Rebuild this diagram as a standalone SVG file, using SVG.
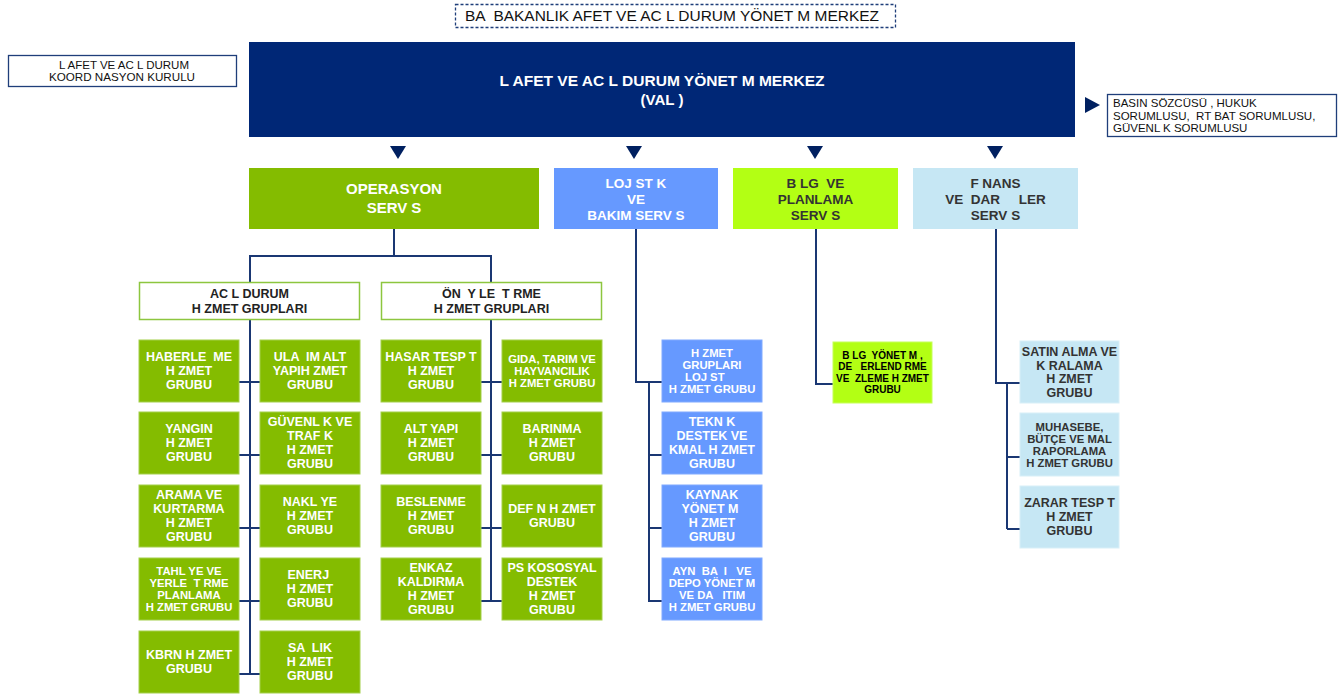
<svg xmlns="http://www.w3.org/2000/svg" width="1340" height="695" viewBox="0 0 1340 695" xml:space="preserve">
<style>
text{font-family:"Liberation Sans",Arial,sans-serif;text-anchor:middle;white-space:pre;}
.w{fill:#ffffff;font-weight:bold;font-size:12.5px;}
.ws{fill:#ffffff;font-weight:bold;font-size:11.3px;}
.d{fill:#333333;font-weight:bold;font-size:12.5px;}
.ds{fill:#333333;font-weight:bold;font-size:11.3px;}
.hd{font-weight:bold;font-size:13.5px;}
.nav{fill:#002776;}
.g{fill:#84BC00;stroke:#A3CF4A;stroke-width:1;}
.bl{fill:#6699FF;stroke:#80AAFF;stroke-width:1;}
.lime{fill:#B3FF14;stroke:#C6FF5A;stroke-width:1;}
.lb{fill:#C6E7F4;stroke:#D8EFF8;stroke-width:1;}
.hdr{fill:#ffffff;stroke:#8DC63F;stroke-width:1.5;}
.conn path{stroke:#1A3773;stroke-width:2;fill:none;}
.tri{fill:#002060;}
</style>

<g id="top-title">
<rect x="455.5" y="4.5" width="440" height="23" fill="#ffffff" stroke="#1F3E7A" stroke-width="1.3" stroke-dasharray="3,2"/>
<text x="672" y="21" style="font-size:14px;fill:#111" textLength="414" lengthAdjust="spacingAndGlyphs">BA  BAKANLIK AFET VE AC L DURUM YÖNET M MERKEZ</text>
</g>

<g id="koordinasyon">
<rect x="8.5" y="55.5" width="228" height="31" fill="#ffffff" stroke="#1F3E7A" stroke-width="1.3"/>
<text x="124" y="69" style="font-size:11.5px;fill:#111" textLength="130" lengthAdjust="spacingAndGlyphs">L AFET VE AC L DURUM</text>
<text x="122" y="80.5" style="font-size:11.5px;fill:#111" textLength="146" lengthAdjust="spacingAndGlyphs">KOORD NASYON KURULU</text>
</g>

<g id="merkez">
<rect class="nav" x="249" y="42" width="826" height="95"/>
<text x="662" y="85.5" style="font-size:15.5px;font-weight:bold;fill:#fff" textLength="325" lengthAdjust="spacingAndGlyphs">L AFET VE AC L DURUM YÖNET M MERKEZ</text>
<text x="662" y="104.5" style="font-size:15.5px;font-weight:bold;fill:#fff" textLength="43" lengthAdjust="spacingAndGlyphs">(VAL )</text>
</g>

<g id="sozcu">
<rect x="1107.5" y="94.5" width="229" height="42" fill="#ffffff" stroke="#1F3E7A" stroke-width="1.3"/>
<text x="1113" y="107" style="text-anchor:start;font-size:11.5px;fill:#111">BASIN SÖZCÜSÜ , HUKUK</text>
<text x="1113" y="119.5" style="text-anchor:start;font-size:11.5px;fill:#111">SORUMLUSU,  RT BAT SORUMLUSU,</text>
<text x="1113" y="132" style="text-anchor:start;font-size:11.5px;fill:#111">GÜVENL K SORUMLUSU</text>
</g>

<g id="arrows">
<polygon class="tri" points="1085,97 1100,105 1085,113"/>
<polygon class="tri" points="390,146 406,146 398,159"/>
<polygon class="tri" points="626,146 642,146 634,159"/>
<polygon class="tri" points="807,146 823,146 815,159"/>
<polygon class="tri" points="987,146 1003,146 995,159"/>
</g>

<g class="conn" id="connectors">
<path d="M394 229 V256 M250 282 V256 H491 V282"/>
<path d="M250 320 V675 M239 382 H260 M239 455 H260 M239 528 H260 M239 601 H260 M239 674 H260"/>
<path d="M491 320 V602 M481 382 H502 M481 455 H502 M481 528 H502 M481 601 H502"/>
<path d="M636 229 V382 H662 M649 382 V602 M649 455 H662 M649 528 H662 M649 601 H662"/>
<path d="M816 229 V384 H833"/>
<path d="M996 229 V383 H1020 M1007 383 V529 M1007 457 H1020 M1007 529 H1020"/>
</g>

<g id="operasyon">
<rect x="249" y="168" width="290" height="61" fill="#84BC00"/>
<text class="w" x="394" y="189" dy="0.35em" style="font-size:15px">OPERASYON</text>
<text class="w" x="394" y="208" dy="0.35em" style="font-size:15px">SERV S</text>
</g>
<g id="lojistik">
<rect x="554" y="168" width="164" height="61" fill="#6699FF"/>
<text class="w hd" x="636" y="183" dy="0.35em">LOJ ST K</text>
<text class="w hd" x="636" y="199" dy="0.35em">VE</text>
<text class="w hd" x="636" y="215" dy="0.35em">BAKIM SERV S</text>
</g>
<g id="bilgi">
<rect x="733" y="168" width="165" height="61" fill="#B3FF14"/>
<text class="d hd" x="815.5" y="183" dy="0.35em">B LG  VE</text>
<text class="d hd" x="815.5" y="199" dy="0.35em">PLANLAMA</text>
<text class="d hd" x="815.5" y="215" dy="0.35em">SERV S</text>
</g>
<g id="finans">
<rect x="913" y="168" width="165" height="61" fill="#C6E7F4"/>
<text class="d hd" x="995.5" y="183" dy="0.35em">F NANS</text>
<text class="d hd" x="995.5" y="199" dy="0.35em">VE  DAR     LER</text>
<text class="d hd" x="995.5" y="215" dy="0.35em">SERV S</text>
</g>

<g id="acil-grup">
<rect class="hdr" x="139.5" y="282.5" width="220" height="37"/>
<text class="d" x="249.5" y="294" dy="0.35em" style="fill:#222">AC L DURUM</text>
<text class="d" x="249.5" y="309" dy="0.35em" style="fill:#222">H ZMET GRUPLARI</text>
</g>
<g id="onleme-grup">
<rect class="hdr" x="381.5" y="282.5" width="220" height="37"/>
<text class="d" x="491.5" y="294" dy="0.35em" style="fill:#222">ÖN  Y LE  T RME</text>
<text class="d" x="491.5" y="309" dy="0.35em" style="fill:#222">H ZMET GRUPLARI</text>
</g>

<g id="haberlesme"><rect class="g" x="139" y="340" width="100" height="62"/>
<text class="w" x="189" y="357" dy="0.35em">HABERLE  ME</text><text class="w" x="189" y="371" dy="0.35em">H ZMET</text><text class="w" x="189" y="385" dy="0.35em">GRUBU</text></g>
<g id="ulasim"><rect class="g" x="260" y="340" width="100" height="62"/>
<text class="w" x="310" y="357" dy="0.35em">ULA  IM ALT</text><text class="w" x="310" y="371" dy="0.35em">YAPIH ZMET</text><text class="w" x="310" y="385" dy="0.35em">GRUBU</text></g>
<g id="yangin"><rect class="g" x="139" y="412" width="100" height="62"/>
<text class="w" x="189" y="429" dy="0.35em">YANGIN</text><text class="w" x="189" y="443" dy="0.35em">H ZMET</text><text class="w" x="189" y="457" dy="0.35em">GRUBU</text></g>
<g id="guvenlik"><rect class="g" x="260" y="412" width="100" height="62"/>
<text class="w" x="310" y="422" dy="0.35em">GÜVENL K VE</text><text class="w" x="310" y="436" dy="0.35em">TRAF K</text><text class="w" x="310" y="450" dy="0.35em">H ZMET</text><text class="w" x="310" y="464" dy="0.35em">GRUBU</text></g>
<g id="arama"><rect class="g" x="139" y="485" width="100" height="62"/>
<text class="w" x="189" y="495" dy="0.35em">ARAMA VE</text><text class="w" x="189" y="509" dy="0.35em">KURTARMA</text><text class="w" x="189" y="523" dy="0.35em">H ZMET</text><text class="w" x="189" y="537" dy="0.35em">GRUBU</text></g>
<g id="nakliye"><rect class="g" x="260" y="485" width="100" height="62"/>
<text class="w" x="310" y="502" dy="0.35em">NAKL YE</text><text class="w" x="310" y="516" dy="0.35em">H ZMET</text><text class="w" x="310" y="530" dy="0.35em">GRUBU</text></g>
<g id="tahliye"><rect class="g" x="139" y="558" width="100" height="62"/>
<text class="ws" x="189" y="571" dy="0.35em">TAHL YE VE</text><text class="ws" x="189" y="583" dy="0.35em">YERLE  T RME</text><text class="ws" x="189" y="595" dy="0.35em">PLANLAMA</text><text class="ws" x="189" y="607" dy="0.35em">H ZMET GRUBU</text></g>
<g id="enerji"><rect class="g" x="260" y="558" width="100" height="62"/>
<text class="w" x="310" y="575" dy="0.35em">ENERJ </text><text class="w" x="310" y="589" dy="0.35em">H ZMET</text><text class="w" x="310" y="603" dy="0.35em">GRUBU</text></g>
<g id="kbrn"><rect class="g" x="139" y="631" width="100" height="62"/>
<text class="w" x="189" y="655" dy="0.35em">KBRN H ZMET</text><text class="w" x="189" y="669" dy="0.35em">GRUBU</text></g>
<g id="saglik"><rect class="g" x="260" y="631" width="100" height="62"/>
<text class="w" x="310" y="648" dy="0.35em">SA  LIK</text><text class="w" x="310" y="662" dy="0.35em">H ZMET</text><text class="w" x="310" y="676" dy="0.35em">GRUBU</text></g>

<g id="hasar"><rect class="g" x="381" y="340" width="100" height="62"/>
<text class="w" x="431" y="357" dy="0.35em">HASAR TESP T</text><text class="w" x="431" y="371" dy="0.35em">H ZMET</text><text class="w" x="431" y="385" dy="0.35em">GRUBU</text></g>
<g id="gida"><rect class="g" x="502" y="340" width="100" height="62"/>
<text class="ws" x="552" y="359" dy="0.35em">GIDA, TARIM VE</text><text class="ws" x="552" y="371" dy="0.35em">HAYVANCILIK</text><text class="ws" x="552" y="383" dy="0.35em">H ZMET GRUBU</text></g>
<g id="altyapi"><rect class="g" x="381" y="412" width="100" height="62"/>
<text class="w" x="431" y="429" dy="0.35em">ALT YAPI</text><text class="w" x="431" y="443" dy="0.35em">H ZMET</text><text class="w" x="431" y="457" dy="0.35em">GRUBU</text></g>
<g id="barinma"><rect class="g" x="502" y="412" width="100" height="62"/>
<text class="w" x="552" y="429" dy="0.35em">BARINMA</text><text class="w" x="552" y="443" dy="0.35em">H ZMET</text><text class="w" x="552" y="457" dy="0.35em">GRUBU</text></g>
<g id="beslenme"><rect class="g" x="381" y="485" width="100" height="62"/>
<text class="w" x="431" y="502" dy="0.35em">BESLENME</text><text class="w" x="431" y="516" dy="0.35em">H ZMET</text><text class="w" x="431" y="530" dy="0.35em">GRUBU</text></g>
<g id="defin"><rect class="g" x="502" y="485" width="100" height="62"/>
<text class="w" x="552" y="509" dy="0.35em">DEF N H ZMET</text><text class="w" x="552" y="523" dy="0.35em">GRUBU</text></g>
<g id="enkaz"><rect class="g" x="381" y="558" width="100" height="62"/>
<text class="w" x="431" y="568" dy="0.35em">ENKAZ</text><text class="w" x="431" y="582" dy="0.35em">KALDIRMA</text><text class="w" x="431" y="596" dy="0.35em">H ZMET</text><text class="w" x="431" y="610" dy="0.35em">GRUBU</text></g>
<g id="psikososyal"><rect class="g" x="502" y="558" width="100" height="62"/>
<text class="w" x="552" y="568" dy="0.35em">PS KOSOSYAL</text><text class="w" x="552" y="582" dy="0.35em">DESTEK</text><text class="w" x="552" y="596" dy="0.35em">H ZMET</text><text class="w" x="552" y="610" dy="0.35em">GRUBU</text></g>

<g id="lojistik-grubu"><rect class="bl" x="662" y="340" width="100" height="62"/>
<text class="ws" x="712" y="353" dy="0.35em">H ZMET</text><text class="ws" x="712" y="365" dy="0.35em">GRUPLARI</text><text class="ws" x="685" y="377" dy="0.35em" style="text-anchor:start">LOJ ST</text><text class="ws" x="712" y="389" dy="0.35em">H ZMET GRUBU</text></g>
<g id="teknik"><rect class="bl" x="662" y="412" width="100" height="62"/>
<text class="w" x="712" y="422" dy="0.35em">TEKN K</text><text class="w" x="712" y="436" dy="0.35em">DESTEK VE</text><text class="w" x="712" y="450" dy="0.35em">KMAL H ZMET</text><text class="w" x="712" y="464" dy="0.35em">GRUBU</text></g>
<g id="kaynak"><rect class="bl" x="662" y="485" width="100" height="62"/>
<text class="w" x="712" y="495" dy="0.35em">KAYNAK</text><text class="w" x="710" y="509" dy="0.35em">YÖNET M</text><text class="w" x="712" y="523" dy="0.35em">H ZMET</text><text class="w" x="712" y="537" dy="0.35em">GRUBU</text></g>
<g id="ayni-bagis"><rect class="bl" x="662" y="558" width="100" height="62"/>
<text class="ws" x="712" y="571" dy="0.35em">AYN  BA  I   VE</text><text class="ws" x="712" y="583" dy="0.35em">DEPO YÖNET M</text><text class="ws" x="712" y="595" dy="0.35em">VE DA   ITIM</text><text class="ws" x="712" y="607" dy="0.35em">H ZMET GRUBU</text></g>

<g id="bilgi-yonetimi"><rect class="lime" x="833" y="342" width="99" height="61"/>
<text x="882.5" y="355.3" dy="0.35em" style="font-size:10px;font-weight:bold;fill:#000">B LG  YÖNET M ,</text>
<text x="882.5" y="366.8" dy="0.35em" style="font-size:10px;font-weight:bold;fill:#000">DE   ERLEND RME</text>
<text x="882.5" y="378.3" dy="0.35em" style="font-size:10px;font-weight:bold;fill:#000">VE  ZLEME H ZMET</text>
<text x="882.5" y="389.8" dy="0.35em" style="font-size:10px;font-weight:bold;fill:#000">GRUBU</text></g>

<g id="satin-alma"><rect class="lb" x="1020" y="341" width="99" height="62"/>
<text class="d" x="1069.5" y="351.8" dy="0.35em">SATIN ALMA VE</text><text class="d" x="1069.5" y="365.3" dy="0.35em">K RALAMA</text><text class="d" x="1069.5" y="378.8" dy="0.35em">H ZMET</text><text class="d" x="1069.5" y="392.3" dy="0.35em">GRUBU</text></g>
<g id="muhasebe"><rect class="lb" x="1020" y="413" width="99" height="63"/>
<text class="ds" x="1069.5" y="427" dy="0.35em">MUHASEBE,</text><text class="ds" x="1069.5" y="439" dy="0.35em">BÜTÇE VE MAL</text><text class="ds" x="1069.5" y="451" dy="0.35em">RAPORLAMA</text><text class="ds" x="1069.5" y="463" dy="0.35em">H ZMET GRUBU</text></g>
<g id="zarar"><rect class="lb" x="1020" y="486" width="99" height="62"/>
<text class="d" x="1069.5" y="503" dy="0.35em">ZARAR TESP T</text><text class="d" x="1069.5" y="517" dy="0.35em">H ZMET</text><text class="d" x="1069.5" y="531" dy="0.35em">GRUBU</text></g>
</svg>
